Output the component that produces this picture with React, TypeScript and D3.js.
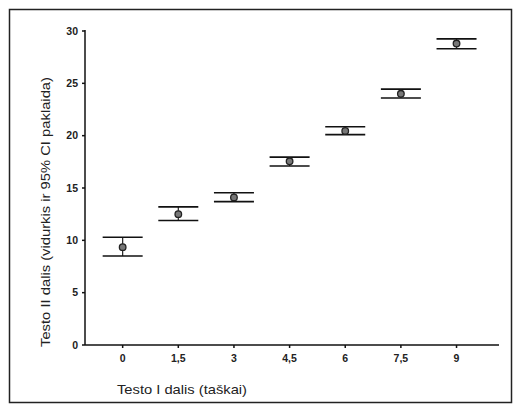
import React from "react";
import * as d3 from "d3";

const width = 516;
const height = 407;
const margin = { top: 31, right: 17, bottom: 62, left: 85 };

// x categories (Testo I dalis)
const categories = ["0", "1,5", "3", "4,5", "6", "7,5", "9"];
// means and 95% CI bounds
const means = [9.35, 12.5, 14.1, 17.55, 20.45, 24.0, 28.8];
const upper = [10.3, 13.2, 14.55, 17.95, 20.85, 24.45, 29.25];
const lower = [8.5, 11.9, 13.7, 17.1, 20.1, 23.6, 28.3];
const yTicks = [0, 5, 10, 15, 20, 25, 30];

const font = "Arial, 'Liberation Sans', sans-serif";

export default function App() {
  const x = d3
    .scalePoint<string>()
    .domain(categories)
    .range([margin.left, width - margin.right])
    .padding(0.72)
    .align(0.47);
  const y = d3
    .scaleLinear()
    .domain([0, 30])
    .range([height - margin.bottom, margin.top]);

  const y0 = y(0);
  const capHalf = 20;

  return (
    <svg
      width={width}
      height={height}
      style={{ position: "absolute", left: 0, top: 0, background: "#fff" }}
    >
      {/* outer frame */}
      <rect x={9.5} y={9.5} width={502} height={393} fill="none" stroke="#222" strokeWidth={1.5} />

      {/* y axis */}
      <line x1={margin.left} x2={margin.left} y1={y(30) - 1} y2={y0} stroke="#111" strokeWidth={1.5} />
      {yTicks.map((t) => (
        <g key={t}>
          <line x1={margin.left - 3} x2={margin.left} y1={y(t)} y2={y(t)} stroke="#111" strokeWidth={1.5} />
          <text
            x={margin.left - 7}
            y={y(t)}
            dy="0.35em"
            textAnchor="end"
            fontFamily={font}
            fontSize={10.5}
            fontWeight="bold"
            fill="#222"
          >
            {t}
          </text>
        </g>
      ))}

      {/* x axis */}
      <line x1={margin.left} x2={width - margin.right} y1={y0} y2={y0} stroke="#111" strokeWidth={1.5} />
      {categories.map((c) => (
        <g key={c}>
          <line x1={x(c)} x2={x(c)} y1={y0} y2={y0 + 3} stroke="#111" strokeWidth={1.5} />
          <text
            x={x(c)}
            y={y0 + 17}
            textAnchor="middle"
            fontFamily={font}
            fontSize={10.5}
            fontWeight="bold"
            fill="#222"
          >
            {c}
          </text>
        </g>
      ))}

      {/* error bars */}
      {categories.map((c, i) => {
        const cx = x(c) as number;
        return (
          <g key={"e" + c}>
            <line x1={cx} x2={cx} y1={y(upper[i])} y2={y(lower[i])} stroke="#222" strokeWidth={1.2} />
            <line x1={cx - capHalf} x2={cx + capHalf} y1={y(upper[i])} y2={y(upper[i])} stroke="#111" strokeWidth={1.6} />
            <line x1={cx - capHalf} x2={cx + capHalf} y1={y(lower[i])} y2={y(lower[i])} stroke="#111" strokeWidth={1.6} />
            <circle cx={cx} cy={y(means[i])} r={3.3} fill="#777" stroke="#222" strokeWidth={1.3} />
          </g>
        );
      })}

      {/* axis titles */}
      <text
        x={182}
        y={394}
        textAnchor="middle"
        fontFamily={font}
        fontSize={13}
        textLength={130}
        lengthAdjust="spacingAndGlyphs"
        fill="#222"
      >
        Testo I dalis (taškai)
      </text>
      <text
        transform={`translate(45, 212) rotate(-90)`}
        textAnchor="middle"
        dy="0.35em"
        fontFamily={font}
        fontSize={13}
        textLength={270}
        lengthAdjust="spacingAndGlyphs"
        fill="#222"
      >
        Testo II dalis (vidurkis ir 95% CI paklaida)
      </text>
    </svg>
  );
}
